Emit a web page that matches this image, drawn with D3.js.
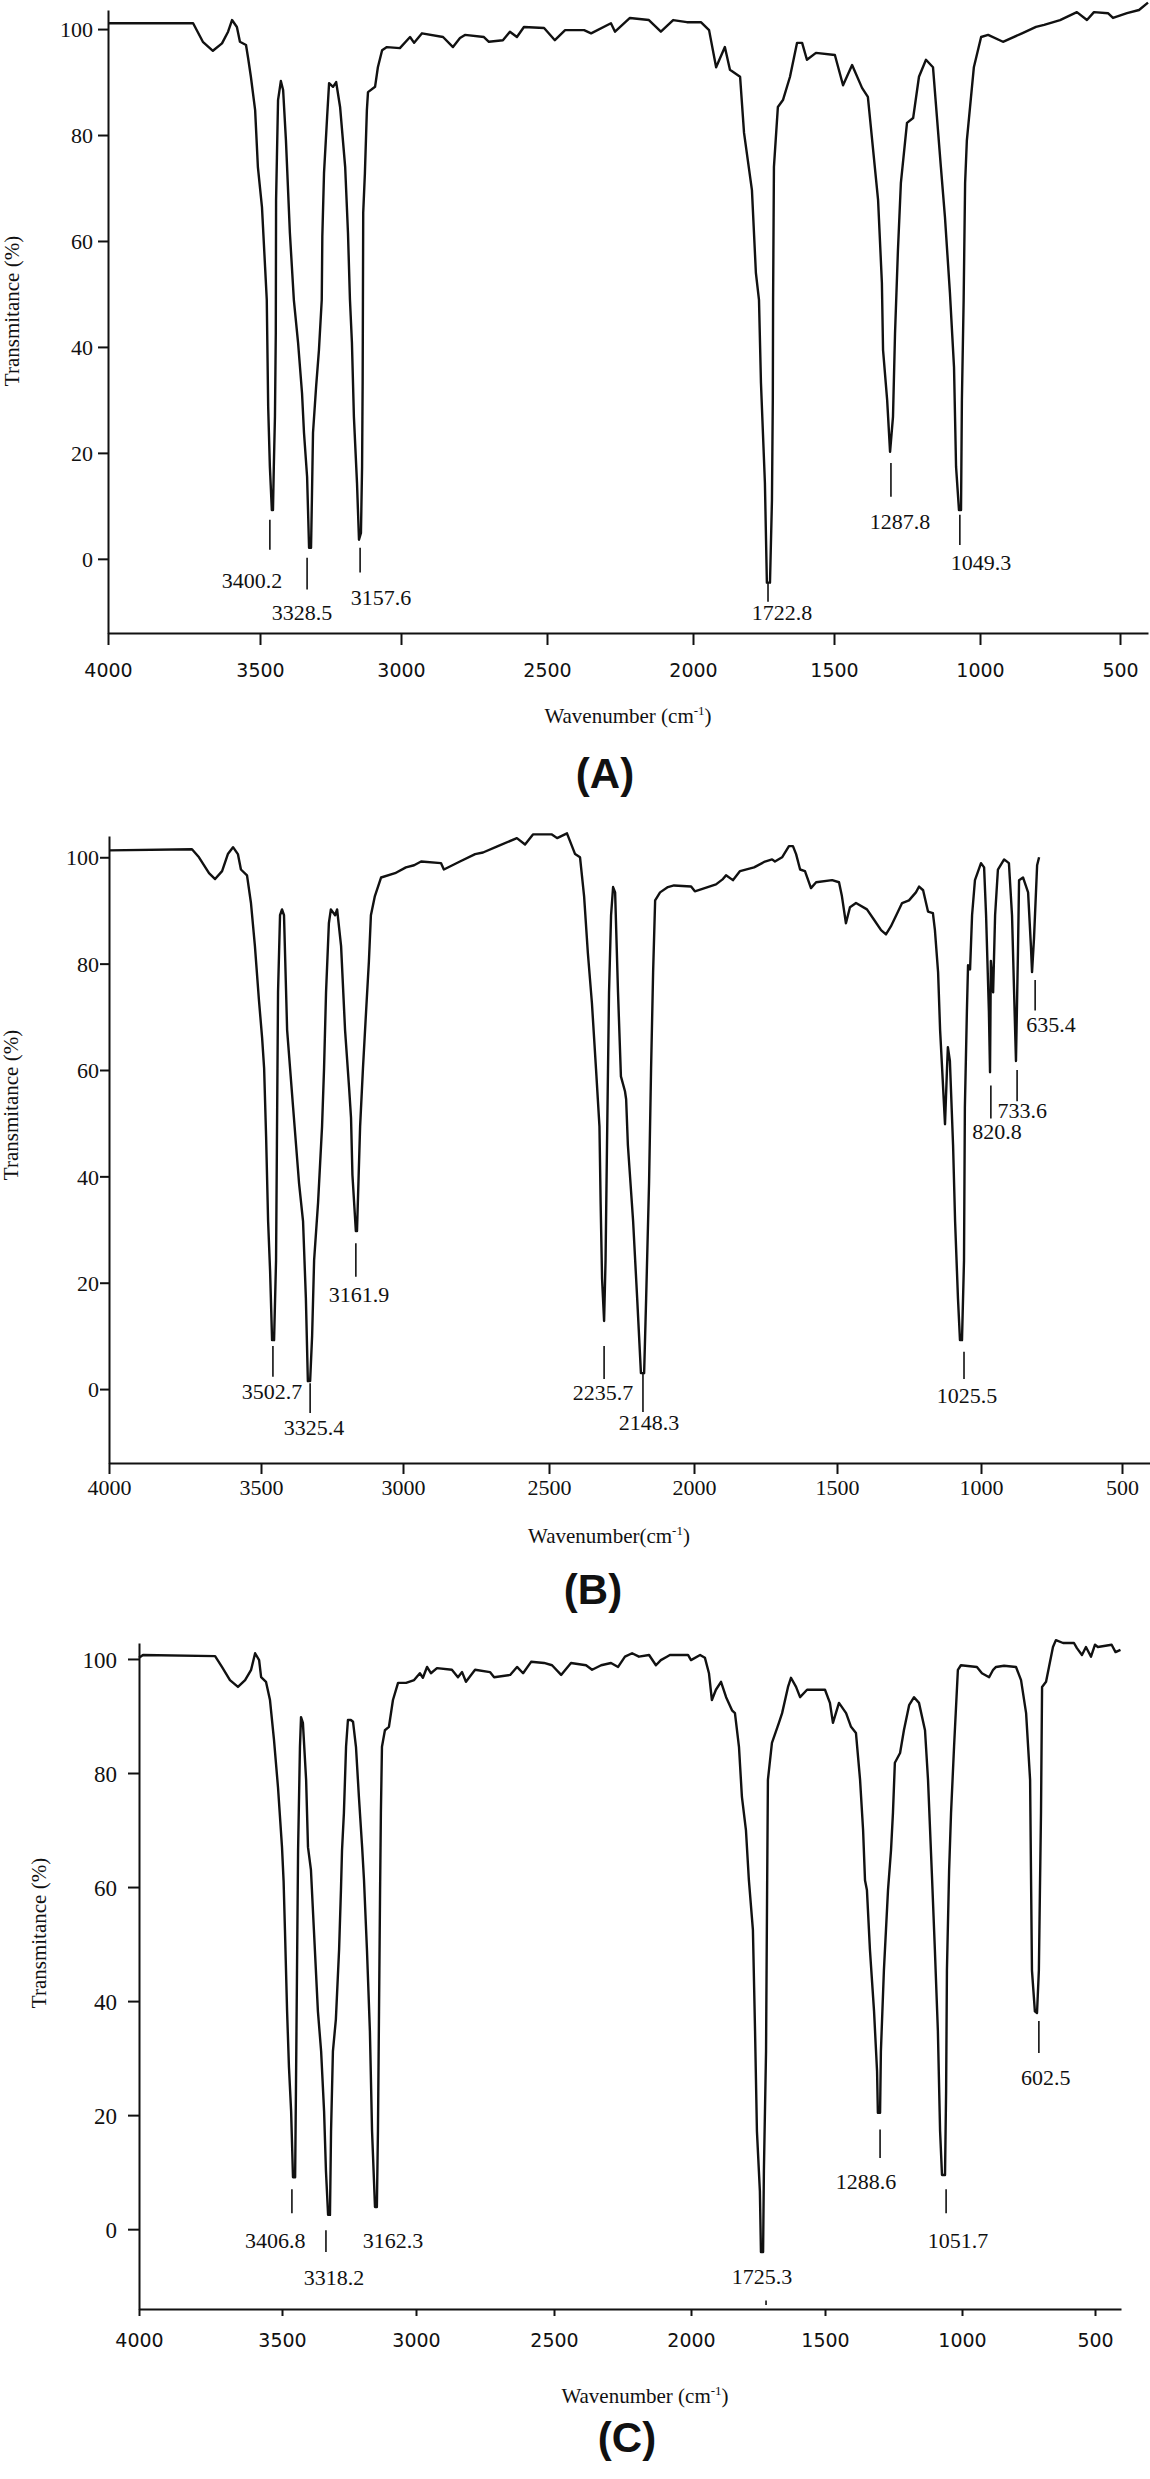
<!DOCTYPE html>
<html>
<head>
<meta charset="utf-8">
<script src="https://cdnjs.cloudflare.com/ajax/libs/d3/7.8.5/d3.min.js"></script>
<style>
	body { margin: 0; background: #fff; }
	text { font-family: "Liberation Serif", "Times New Roman", serif; fill: #111; }
	.panel-title { font-family: "Liberation Sans", Arial, sans-serif; font-weight: bold; }
</style>
</head>
<body>
<div id="chart"></div>
<script>
// tick labels shared by the three spectra
const xTicks = [4000, 3500, 3000, 2500, 2000, 1500, 1000, 500];
const yTicks = [0, 20, 40, 60, 80, 100];

// spectrum (A): [wavenumber, transmittance]
const specA = [[4000,101.1],[3720,101.1],[3688,97.6],[3655,95.9],[3625,97.3],[3605,99.5],[3592,101.7],[3576,100.4],[3566,97.6],[3546,97],[3539,94.5],[3530,91],[3516,84.7],[3507,74],[3493,66.4],[3482,55.1],[3476,48.9],[3474,40.8],[3471,28.7],[3465,17.4],[3458,9.2],[3454,9.2],[3451,17.4],[3447,26.8],[3444,42.6],[3443,67.7],[3440,75.8],[3436,86.6],[3426,90.2],[3418,88.5],[3408,79],[3394,61.5],[3380,48.9],[3365,40.8],[3351,31.3],[3344,23.8],[3333,15.5],[3326,2.1],[3319,2.1],[3316,11.1],[3312,23.8],[3301,32.5],[3291,39.4],[3281,48.9],[3279,60.8],[3273,72.8],[3262,83.4],[3255,89.8],[3241,89.1],[3230,90],[3216,85.3],[3198,74],[3188,61.5],[3181,48.9],[3174,40.8],[3167,26.8],[3156,14.3],[3149,3.6],[3142,4.9],[3138,17.4],[3136,33.2],[3135,48.9],[3134,65.3],[3128,72.8],[3121,84.7],[3117,88.1],[3092,89.1],[3082,92.8],[3067,96],[3050,96.6],[3004,96.4],[2969,98.5],[2955,97.4],[2928,99.2],[2856,98.5],[2822,96.6],[2798,98.3],[2781,98.9],[2716,98.5],[2699,97.6],[2651,97.9],[2627,99.5],[2603,98.5],[2579,100.4],[2510,100.2],[2473,97.9],[2438,99.8],[2373,99.8],[2349,99.2],[2281,101.1],[2267,99.5],[2216,102.1],[2151,101.7],[2110,99.5],[2068,101.7],[2021,101.3],[1972,101.3],[1943,99.8],[1918,92.8],[1887,96.6],[1869,92.3],[1833,91],[1819,80.4],[1791,69.6],[1777,54],[1766,48.9],[1759,33.2],[1745,14.3],[1738,-4.5],[1727,-4.5],[1720,11.1],[1717,30],[1716,48.9],[1713,74],[1699,85.3],[1681,86.6],[1656,91],[1631,97.4],[1613,97.4],[1596,94.2],[1564,95.5],[1497,95.1],[1469,89.4],[1438,93.2],[1404,88.9],[1384,87.2],[1349,67.7],[1336,52.1],[1332,39.4],[1318,30],[1308,20.2],[1298,26.8],[1291,42.6],[1281,58.3],[1271,70.9],[1250,82.3],[1229,83.2],[1209,91],[1185,94.2],[1161,92.8],[1134,74],[1120,64.5],[1103,50.2],[1089,36.2],[1082,17.4],[1072,9.2],[1065,9.2],[1062,30],[1056,48.9],[1051,70.9],[1045,79],[1021,92.8],[996,98.5],[971,98.9],[918,97.6],[850,99.2],[800,100.4],[771,100.8],[714,101.7],[654,103.2],[618,101.7],[593,103.2],[543,103],[525,102.1],[475,103],[432,103.6],[400,105]];

// spectrum (B)
const specB = [[4000,101.3],[3727,101.5],[3704,100],[3671,97],[3651,95.9],[3628,97.4],[3609,100.6],[3592,101.9],[3576,100.6],[3566,97.7],[3546,96.6],[3533,91.4],[3520,83.3],[3507,73.3],[3496,66],[3489,60.3],[3482,47.4],[3475,31.6],[3468,22.2],[3461,9.2],[3454,9.2],[3447,24.2],[3444,45.9],[3440,74.6],[3433,89.1],[3426,90.2],[3419,89.1],[3408,67.5],[3387,53],[3366,38.7],[3352,31.6],[3342,17.1],[3335,1.5],[3327,1.5],[3320,10],[3313,24.2],[3299,35.1],[3285,49.4],[3278,60.3],[3271,74.6],[3261,87.6],[3254,90.2],[3239,89.1],[3232,90.2],[3218,83.3],[3204,67.5],[3190,56.8],[3183,51],[3178,40.2],[3166,29.7],[3162,29.7],[3151,49.4],[3141,60.3],[3130,71],[3120,80.5],[3113,89.1],[3099,92.7],[3077,96.2],[3028,97],[2990,98.1],[2962,98.5],[2938,99.2],[2870,98.9],[2860,97.7],[2805,99.2],[2753,100.6],[2726,100.9],[2675,102.1],[2610,103.6],[2582,102.4],[2555,104.3],[2490,104.3],[2472,103.6],[2438,104.5],[2410,100.6],[2393,100],[2379,92.7],[2366,82],[2352,72.6],[2338,60.3],[2326,49.4],[2322,35.1],[2317,20.7],[2310,12.8],[2305,24.2],[2300,45.9],[2293,74.6],[2286,89.1],[2279,94.4],[2272,93.4],[2262,74.6],[2252,58.8],[2238,56],[2234,54.5],[2228,45.9],[2210,31.6],[2196,17.1],[2183,3],[2172,3],[2165,17.1],[2155,38.7],[2148,60.3],[2141,78.4],[2134,91.9],[2117,93.4],[2090,94.4],[2069,94.7],[2010,94.5],[1997,93.6],[1923,94.9],[1899,95.9],[1888,96.6],[1864,95.7],[1839,97.4],[1790,98.1],[1752,99.2],[1727,99.6],[1717,99.2],[1692,100],[1668,102.1],[1654,102.1],[1643,100.6],[1629,97.7],[1612,97.4],[1591,94.2],[1573,95.3],[1517,95.7],[1493,95.3],[1483,92.7],[1469,87.6],[1455,90.6],[1434,91.4],[1396,90.2],[1372,88.3],[1347,86.3],[1330,85.5],[1313,87],[1288,89.8],[1274,91.4],[1250,91.9],[1226,93.4],[1215,94.5],[1201,93.8],[1184,89.8],[1167,89.5],[1160,86.3],[1149,78.4],[1142,67.5],[1135,60.3],[1125,49.8],[1118,60.3],[1115,64.3],[1108,61.7],[1097,45.9],[1090,31.6],[1080,17.1],[1073,9.2],[1066,9.2],[1059,24.2],[1056,53],[1049,71],[1045,79.7],[1038,78.9],[1031,89.1],[1021,95.7],[1000,98.9],[989,98.1],[982,89.1],[972,71],[968,59.6],[965,80.5],[957,74.6],[950,89.1],[940,97.7],[918,99.6],[901,98.9],[890,89.1],[879,67.5],[876,61.7],[869,82],[865,95.7],[851,96.2],[833,93.4],[823,83.3],[819,78.4],[812,84.8],[801,98.5],[794,100]];

// spectrum (C)
const specC = [[4000,100.2],[3986,100.7],[3734,100.5],[3710,98.6],[3682,96.3],[3654,95.1],[3629,96.3],[3608,98.1],[3594,101],[3580,99.8],[3573,96.8],[3556,96],[3542,92.8],[3528,85.8],[3514,77.5],[3500,67],[3494,61],[3489,52.5],[3481,38.2],[3474,28.4],[3466,20.7],[3459,9.1],[3451,9.1],[3448,24.2],[3444,45.4],[3440,66.5],[3433,84.6],[3429,89.8],[3422,88.8],[3410,78.8],[3403,67],[3392,63],[3381,52.5],[3366,38.2],[3354,31.2],[3343,20.7],[3336,10.2],[3328,2.5],[3321,2.5],[3317,17.2],[3310,31.2],[3299,36.8],[3287,49],[3280,59.5],[3276,66.5],[3269,73],[3261,84.6],[3254,89.3],[3243,89.3],[3235,89],[3224,84.6],[3213,75.8],[3201,67],[3194,61.2],[3183,49],[3172,34.7],[3164,17.2],[3153,3.9],[3146,3.9],[3142,17.2],[3138,38.2],[3134,59.5],[3131,73],[3127,84.6],[3116,87.5],[3101,88.1],[3086,92.8],[3067,95.8],[3037,95.8],[3007,96.3],[2986,97.5],[2975,96.7],[2960,98.6],[2946,97.5],[2924,98.4],[2870,98.1],[2848,96.8],[2833,97.7],[2819,96],[2786,98.1],[2732,97.7],[2717,96.8],[2659,97.2],[2634,98.6],[2612,97.5],[2583,99.5],[2536,99.3],[2507,98.9],[2474,97.2],[2438,99.3],[2383,98.9],[2361,98.1],[2328,98.9],[2292,99.3],[2266,98.6],[2241,100.4],[2215,101],[2190,100.4],[2153,100.7],[2128,98.9],[2110,99.8],[2088,100.4],[2077,100.7],[2011,100.7],[2000,99.8],[1966,100.7],[1948,100.2],[1933,97.5],[1922,92.8],[1907,94.6],[1888,96],[1869,93.3],[1847,91],[1836,90.5],[1821,84.6],[1810,75.8],[1795,70],[1784,61.2],[1769,52.5],[1761,34.7],[1754,17.2],[1743,6.7],[1739,-4],[1731,-4],[1728,10.2],[1720,31.2],[1716,59.5],[1713,78.8],[1698,85.3],[1672,88.8],[1660,90.5],[1638,95.1],[1627,96.7],[1608,95.1],[1593,93.3],[1567,94.6],[1500,94.6],[1482,92.3],[1471,88.8],[1449,92.3],[1423,90.5],[1405,88.1],[1387,87],[1372,78.8],[1361,70],[1354,61.2],[1347,59.5],[1336,49],[1321,38.2],[1310,27.7],[1307,20.4],[1299,20.4],[1296,31.2],[1285,45.4],[1270,59.5],[1259,66.5],[1252,73],[1245,81.8],[1226,83.5],[1212,87.5],[1193,91.9],[1175,93.3],[1157,92.3],[1135,87.5],[1124,78.8],[1109,61.2],[1099,49],[1088,34.7],[1080,17.2],[1073,9.5],[1062,9.5],[1058,24.2],[1055,45.4],[1047,63],[1040,73],[1029,84.6],[1015,98.1],[1004,98.9],[944,98.6],[925,97.5],[898,96.8],[883,98.1],[872,98.6],[842,98.8],[797,98.6],[778,96.3],[759,90.5],[744,78.8],[740,59.5],[737,45.4],[726,38.2],[718,37.9],[711,45.4],[707,59.5],[703,73],[699,95.1],[684,96],[673,98.6],[658,102.1],[647,103.3],[620,102.8],[579,102.8],[568,101.9],[549,100.7],[534,102.1],[515,100.4],[500,102.5],[489,102.1],[436,102.5],[421,101.2],[402,101.6]];

// peak annotations: [label, marker wavenumber, marker top T, marker bottom T, text wavenumber, text baseline T]
const peaksA = [["3400.2",3465,7.4,1.7,3526,-5.5],["3328.5",3333,0.2,-5.8,3351,-11.5],["3157.6",3145,2.1,-2.6,3071,-8.7],["1722.8",1734,-4.5,-8.1,1684,-11.5],["1287.8",1305,18.1,11.7,1274,5.7],["1049.3",1069,8.3,2.6,996,-2.1]];
const peaksB = [["3502.7",3458,8.1,2.3,3461,-1.9],["3325.4",3327,1.1,-4.5,3313,-8.6],["3161.9",3166,27.4,21.1,3155,16.4],["2235.7",2310,8.1,1.9,2314,-2.1],["2148.3",2176,3,-4.3,2155,-7.7],["1025.5",1059,7,1.9,1049,-2.6],["820.8",965,57.1,50.9,943,47],["733.6",872,60,54.1,854,50.9],["635.4",808,76.9,71.2,752,67.1]];
const peaksC = [["3406.8",3463,7,2.8,3524,-3.3],["3318.2",3336,-0.2,-4,3306,-9.8],["3162.3",null,null,null,3086,-3.3],["1725.3",1720,-12.5,-13.3,1735,-9.6],["1288.6",1299,17.5,12.5,1350,7],["1051.7",1058,7,2.8,1015,-3.3],["602.5",711,36.5,30.9,685,25.3]];

const xDomain = [4000, 3500, 3000, 2500, 2000, 1500, 1000, 500, 400];

const width = 1150;
const height = 2479;

const sans = "DejaVu Sans";
const serif = "Liberation Serif";

const panels = [
	{ name: "(A)", data: specA, peaks: peaksA, xTitle: "Wavenumber (cm", yDomain: [-14, 103.6],
	  xRange: [108, 260, 401, 547, 693, 834, 980, 1120, 1148], yRange: [633, 10],
	  yTick: 10, xTick: 12, yGap: 15, xLab: 44, xFont: [sans, 19], yFont: [serif, 22],
	  yTitlePos: [12, 311], xTitlePos: [628, 723], titlePos: [605, 788] },
	{ name: "(B)", data: specB, peaks: peaksB, xTitle: "Wavenumber(cm", yDomain: [-13.9, 104],
	  xRange: [109, 261, 403, 549, 694, 837, 981, 1122, 1150], yRange: [1463, 836],
	  yTick: 9, xTick: 11, yGap: 10, xLab: 32, xFont: [serif, 22], yFont: [serif, 22],
	  yTitlePos: [11, 1105], xTitlePos: [609, 1543], titlePos: [593, 1604] },
	{ name: "(C)", data: specC, peaks: peaksC, xTitle: "Wavenumber (cm", yDomain: [-14, 102.8],
	  xRange: [139, 282, 416, 554, 691, 825, 962, 1095, 1121], yRange: [2309, 1643],
	  yTick: 11, xTick: 7, yGap: 22, xLab: 38, xFont: [sans, 19], yFont: [serif, 23],
	  yTitlePos: [39, 1933], xTitlePos: [645, 2403], titlePos: [627, 2452] }
];

const svg = d3.select("#chart")
	.append("svg")
		.attr("width", width)
		.attr("height", height);

panels.forEach((p) => {
	const x = d3.scaleLinear().domain(xDomain).range(p.xRange);
	const y = d3.scaleLinear().domain(p.yDomain).range(p.yRange);
	const g = svg.append("g");

	// axes
	const xAxis = g.append("g")
		.attr("transform", `translate(0,${p.yRange[0]})`)
		.call(d3.axisBottom(x)
			.tickValues(xTicks)
			.tickFormat(d3.format("d"))
			.tickSize(p.xTick)
			.tickSizeOuter(0))
		.attr("font-family", null)
		.attr("font-size", null);
	xAxis.selectAll("text")
		.attr("y", p.xLab)
		.attr("dy", 0)
		.attr("fill", "#111")
		.style("font-family", p.xFont[0])
		.style("font-size", p.xFont[1] + "px");

	const yAxis = g.append("g")
		.attr("transform", `translate(${p.xRange[0]},0)`)
		.call(d3.axisLeft(y)
			.tickValues(yTicks)
			.tickFormat(d3.format("d"))
			.tickSize(p.yTick)
			.tickSizeOuter(0))
		.attr("font-family", null)
		.attr("font-size", null);
	yAxis.selectAll("text")
		.attr("x", -p.yGap)
		.attr("dy", "0.35em")
		.attr("fill", "#111")
		.style("font-family", p.yFont[0])
		.style("font-size", p.yFont[1] + "px");

	g.selectAll(".domain, .tick line")
		.attr("stroke", "#111")
		.attr("stroke-width", 2);

	// spectrum
	const line = d3.line()
		.x((d) => x(d[0]))
		.y((d) => y(d[1]));
	g.append("path")
		.datum(p.data)
			.attr("fill", "none")
			.attr("stroke", "#111")
			.attr("stroke-width", 2.4)
			.attr("stroke-linejoin", "round")
			.attr("d", line);

	// peak markers and labels
	p.peaks.forEach((k) => {
		if (k[1] !== null) {
			g.append("line")
				.attr("x1", x(k[1])).attr("x2", x(k[1]))
				.attr("y1", y(k[2])).attr("y2", y(k[3]))
				.attr("stroke", "#111")
				.attr("stroke-width", 1.6);
		}
		g.append("text")
			.text(k[0])
			.attr("x", x(k[4]))
			.attr("y", y(k[5]))
			.attr("text-anchor", "middle")
			.style("font-size", "22px");
	});

	// titles
	const xt = g.append("text")
		.attr("x", p.xTitlePos[0])
		.attr("y", p.xTitlePos[1])
		.attr("text-anchor", "middle")
		.style("font-size", "21px");
	xt.append("tspan").text(p.xTitle);
	xt.append("tspan").text("-1").attr("dy", -8).style("font-size", "13px");
	xt.append("tspan").text(")").attr("dy", 8);

	g.append("text")
		.text("Transmitance (%)")
		.attr("transform", `translate(${p.yTitlePos[0]},${p.yTitlePos[1]}) rotate(-90)`)
		.attr("text-anchor", "middle")
		.attr("dominant-baseline", "central")
		.style("font-size", "21px");

	g.append("text")
		.attr("class", "panel-title")
		.text(p.name)
		.attr("x", p.titlePos[0])
		.attr("y", p.titlePos[1])
		.attr("text-anchor", "middle")
		.style("font-size", "42px");
});
</script>
</body>
</html>
